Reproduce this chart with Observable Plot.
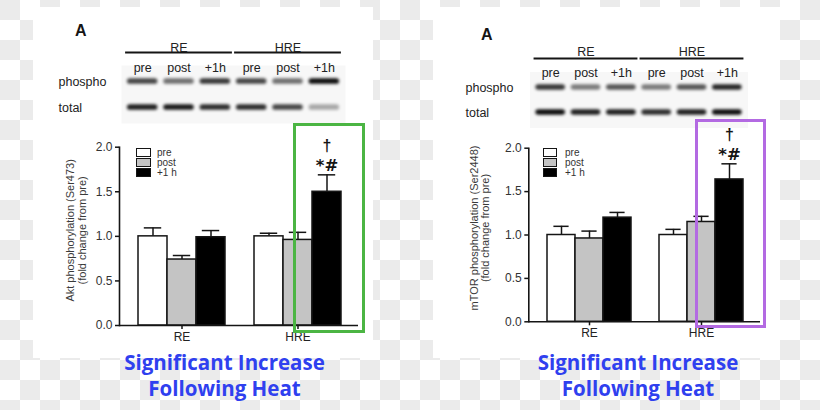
<!DOCTYPE html>
<html><head><meta charset="utf-8">
<script src="https://cdn.jsdelivr.net/npm/d3@7"></script>
<script src="https://cdn.jsdelivr.net/npm/@observablehq/plot@0.6"></script>
<style>
html,body{margin:0;padding:0;}
body{width:820px;height:410px;overflow:hidden;position:relative;
 background: repeating-conic-gradient(#fff 0 25%, #ebebeb 0 50%) 0 0/40px 40px;
 font-family:"Liberation Sans",Arial,sans-serif;}
.abs{position:absolute;}
.abs svg{display:block;overflow:visible;}
.cap{position:absolute;width:320px;text-align:center;font-family:"Open Sans",sans-serif;font-weight:700;
 font-size:20.5px;line-height:26px;color:#2f40ef;white-space:nowrap;}
</style></head><body>
<script>
// ---------- data ----------
const groups = ["RE", "HRE"];
const times = ["pre", "post", "+1h"];
const legendLabels = ["pre", "post", "+1 h"];
const yTicks = [0, 0.5, 1.0, 1.5, 2.0];
const aktMean = [1.00, 0.74, 0.99, 1.00, 0.96, 1.50];
const aktSem  = [0.095, 0.045, 0.075, 0.035, 0.085, 0.19];
const mtorMean = [1.00, 0.96, 1.20, 1.00, 1.15, 1.64];
const mtorSem  = [0.10, 0.085, 0.06, 0.065, 0.065, 0.18];
const aktPhospho = [0.72, 0.55, 0.78, 0.72, 0.55, 0.95];
const aktTotal   = [0.88, 0.90, 0.82, 0.82, 0.72, 0.32];
const mtorPhospho = [0.78, 0.50, 0.65, 0.50, 0.65, 0.85];
const mtorTotal   = [0.95, 0.88, 0.88, 0.82, 0.88, 0.95];
const blotRows = ["phospho", "total"];
const aktLabel = ["Akt phosphorylation (Ser473)", "(fold change from pre)"];
const mtorLabel = ["mTOR phosphorylation (Ser2448)", "(fold change from pre)"];
const signif = {key: "HRE +1h", dagger: "†", stars: "*#"};
const panelLetter = "A";
const captionLines = ["Significant Increase", "Following Heat"];

// ---------- styles ----------
const FONT = '"Liberation Sans", Arial, sans-serif';
const INK = "#151515";
const fills = {pre: "#ffffff", post: "#c4c4c4", "+1h": "#000000"};

function place(node, left, top) {
  const d = document.createElement("div");
  d.className = "abs"; d.style.left = left + "px"; d.style.top = top + "px";
  d.appendChild(node); document.body.appendChild(d); return d;
}
function box(left, top, w, h, css) {
  const d = document.createElement("div");
  d.className = "abs";
  Object.assign(d.style, {left: left + "px", top: top + "px", width: w + "px", height: h + "px", boxSizing: "border-box"}, css);
  document.body.appendChild(d); return d;
}

function barChart(cfg) {
  const rows = groups.flatMap((g, gi) => times.map((t, ti) => ({
    group: g, time: t, key: `${g} ${t}`,
    mean: cfg.mean[gi * 3 + ti], top: cfg.mean[gi * 3 + ti] + cfg.sem[gi * 3 + ti]
  })));
  const domain = [...rows.slice(0, 3).map(d => d.key), "gap", ...rows.slice(3).map(d => d.key)];
  const centers = groups.map(g => `${g} post`);
  const sig = rows.filter(d => d.key === signif.key);
  return Plot.plot({
    width: cfg.width, height: cfg.height,
    marginLeft: cfg.ml, marginRight: cfg.mr, marginTop: cfg.mt, marginBottom: cfg.mb,
    style: {background: "transparent", fontFamily: FONT, color: INK, overflow: "visible"},
    x: {type: "band", domain, paddingInner: 0, paddingOuter: cfg.po, align: cfg.align, axis: null},
    y: {domain: [0, 2], axis: null},
    marks: [
      Plot.ruleX(rows, {x: "key", y1: "mean", y2: "top", strokeWidth: 1.5, stroke: INK}),
      Plot.tickY(rows, {x: "key", y: "top", insetLeft: cfg.cap, insetRight: cfg.cap, strokeWidth: 1.5, stroke: INK}),
      Plot.barY(rows, {x: "key", y: "mean", fill: d => fills[d.time], stroke: INK, strokeWidth: 1.5}),
      Plot.ruleY([0], {strokeWidth: 1.6, stroke: INK}),
      Plot.frame({anchor: "left", strokeWidth: 1.6, stroke: INK}),
      Plot.axisY({ticks: yTicks, tickFormat: d3.format(".1f"), tickSize: 4, tickPadding: 3, fontSize: 12, label: null, strokeWidth: 1.5, fill: "#333"}),
      Plot.axisX({ticks: centers, tickFormat: k => k.split(" ")[0], tickSize: 4, tickPadding: 3, fontSize: 12, label: null, strokeWidth: 1.5, fill: "#222"}),
      Plot.text(sig, {x: "key", y: "top", text: () => signif.stars, dy: -4, lineAnchor: "bottom", fontSize: 16.5, fontWeight: "bold", fontFamily: '"DejaVu Sans", sans-serif', fill: INK}),
      Plot.text(sig, {x: "key", y: "top", text: () => signif.dagger, dy: -24, lineAnchor: "bottom", fontSize: 16, fontWeight: "bold", fill: INK}),
      Plot.text([cfg.label.join("\n")], {frameAnchor: "left", textAnchor: "middle", rotate: -90, dx: cfg.ldx, dy: cfg.ldy, fontSize: 11, lineHeight: 1.05, fill: "#3a3a3a"})
    ]
  });
}

function blotChart(cfg) {
  const lanes = groups.flatMap((g, gi) => times.map((t, ti) => ({group: g, time: t, lane: gi * 3 + ti})));
  const bands = [cfg.phospho, cfg.total].flatMap((vals, ri) => vals.map((v, i) => ({row: ri, lane: i, intensity: v})));
  const heads = groups.map((g, gi) => ({name: g, first: gi * 3, last: gi * 3 + 2}));
  const svg = Plot.plot({
    width: cfg.width, height: cfg.height,
    marginLeft: cfg.ml, marginRight: cfg.mr, marginTop: cfg.mt, marginBottom: cfg.mb,
    style: {background: "transparent", fontFamily: FONT, color: INK, overflow: "visible"},
    x: {domain: [-0.5, 5.5], axis: null},
    y: {domain: [-0.5, 1.5], reverse: true, axis: null},
    opacity: {type: "identity"},
    marks: [
      Plot.frame({fill: "#000", fillOpacity: 0.03, stroke: null, inset: -3}),
      Plot.rect(bands, {x1: d => d.lane - 0.42, x2: d => d.lane + 0.42, y1: d => d.row - 0.11, y2: d => d.row + 0.11, fill: "#000", fillOpacity: "intensity"}),
      Plot.text(blotRows, {y: (d, i) => i, text: d => d, frameAnchor: "left", textAnchor: "start", dx: cfg.rowDx, fontSize: 12.5, fill: "#222"}),
      Plot.text(lanes, {x: "lane", text: "time", frameAnchor: "top", dy: cfg.laneDy, fontSize: 12.5, fill: "#222"}),
      Plot.ruleY(heads, {x1: d => d.first - 0.47, x2: d => d.last + 0.47, y: () => -0.5, dy: cfg.ruleDy, strokeWidth: 2, stroke: INK}),
      Plot.text(heads, {x: d => (d.first + d.last) / 2, text: "name", frameAnchor: "top", dy: cfg.headDy, fontSize: 12.5, fill: "#222"})
    ]
  });
  svg.querySelectorAll('g[aria-label="rect"] rect').forEach(r => { r.style.filter = "blur(1.6px)"; r.setAttribute("rx", 3); });
  return svg;
}

function legend(x, y, w, labelX) {
  times.forEach((t, i) => {
    box(x, y + i * 10, w, 9, {background: fills[t], border: "1px solid " + INK});
    const l = box(labelX, y + i * 10 - 2, 40, 13, {fontSize: "10px", lineHeight: "13px", color: "#333"});
    l.textContent = legendLabels[i];
  });
}

function caption(cx, top) {
  captionLines.forEach((s, i) => {
    const d = document.createElement("div");
    d.className = "cap"; d.style.left = (cx - 160) + "px"; d.style.top = (top + i * 26) + "px";
    d.textContent = s; document.body.appendChild(d);
  });
}

// ---------- panels ----------
box(33, 7, 340, 351, {background: "#fff"});
box(433, 7, 347, 351, {background: "#fff"});

// letters
[[75, 21], [481, 25]].forEach(([x, y]) => {
  const d = box(x, y, 20, 20, {fontSize: "16px", fontWeight: "bold", lineHeight: "20px", color: INK});
  d.textContent = panelLetter;
});

// blots
place(blotChart({phospho: aktPhospho, total: aktTotal, width: 310, height: 92, ml: 74, mr: 18, mt: 38, mb: 2,
  rowDx: -66, laneDy: -5, ruleDy: -16, headDy: -25}), 50, 30);
place(blotChart({phospho: mtorPhospho, total: mtorTotal, width: 310, height: 106, ml: 77.5, mr: 20.5, mt: 54.5, mb: 1.5,
  rowDx: -67.5, laneDy: -6.5, ruleDy: -16.5, headDy: -27.5}), 455, 20);

// bar charts
place(barChart({mean: aktMean, sem: aktSem, label: aktLabel, width: 330, height: 230, ml: 79, mr: 12, mt: 26.7, mb: 25,
  po: 0.53, align: 0.53, cap: 5.8, ldx: -43, ldy: -6}), 40, 120);
place(barChart({mean: mtorMean, sem: mtorSem, label: mtorLabel, width: 320, height: 225, ml: 73.3, mr: 15, mt: 27.7, mb: 23.7,
  po: 0.51, align: 0.53, cap: 6.4, ldx: -49, ldy: -7}), 455, 120);

legend(135.7, 148, 15, 157);
legend(543.3, 148, 14, 565);

// highlight boxes
box(292.5, 122.5, 72, 210, {border: "3px solid #4bb543"});
box(695.2, 118.5, 70.5, 209, {border: "3px solid #b36ae2"});

caption(224.5, 348.5);
caption(638, 348.5);
</script>
</body></html>
